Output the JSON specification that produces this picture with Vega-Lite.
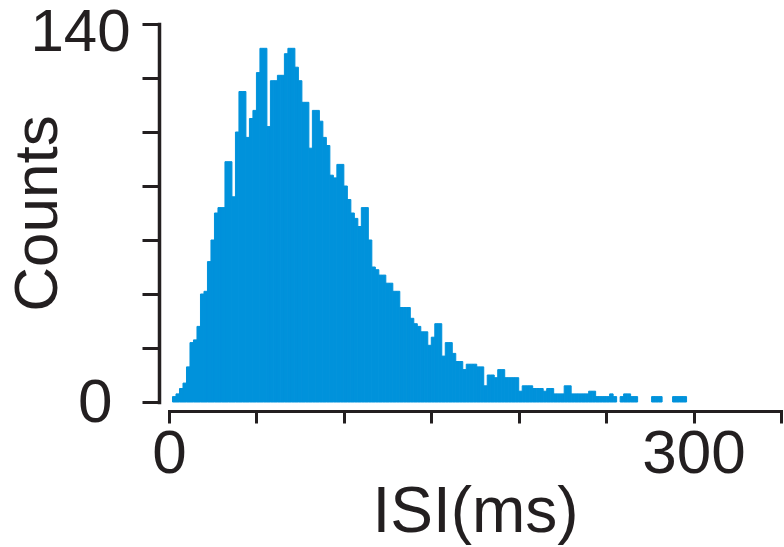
{
  "$schema": "https://vega.github.io/schema/vega-lite/v6.json",
  "width": 612,
  "height": 378,
  "autosize": "none",
  "padding": {"left": 169, "top": 24, "right": 3, "bottom": 145},
  "background": "white",
  "config": {"view": {"stroke": null}, "font": "Liberation Sans"},
  "data": {"values": [
    {"s": 2, "e": 4, "n": 2}, {"s": 4, "e": 6, "n": 3}, {"s": 6, "e": 8, "n": 5}, {"s": 8, "e": 10, "n": 7},
    {"s": 10, "e": 12, "n": 13}, {"s": 12, "e": 14, "n": 22}, {"s": 14, "e": 16, "n": 23}, {"s": 16, "e": 18, "n": 28},
    {"s": 18, "e": 20, "n": 40}, {"s": 20, "e": 22, "n": 41}, {"s": 22, "e": 24, "n": 52}, {"s": 24, "e": 26, "n": 60},
    {"s": 26, "e": 28, "n": 70}, {"s": 28, "e": 30, "n": 72}, {"s": 30, "e": 32, "n": 72}, {"s": 32, "e": 34, "n": 89},
    {"s": 34, "e": 36, "n": 89}, {"s": 36, "e": 38, "n": 76}, {"s": 38, "e": 40, "n": 100}, {"s": 40, "e": 42, "n": 115},
    {"s": 42, "e": 44, "n": 115}, {"s": 44, "e": 46, "n": 98}, {"s": 46, "e": 48, "n": 105}, {"s": 48, "e": 50, "n": 108},
    {"s": 50, "e": 52, "n": 122}, {"s": 52, "e": 54, "n": 131}, {"s": 54, "e": 56, "n": 131}, {"s": 56, "e": 58, "n": 102},
    {"s": 58, "e": 60, "n": 119}, {"s": 60, "e": 62, "n": 119}, {"s": 62, "e": 64, "n": 121}, {"s": 64, "e": 66, "n": 121},
    {"s": 66, "e": 68, "n": 129}, {"s": 68, "e": 70, "n": 131}, {"s": 70, "e": 72, "n": 131}, {"s": 72, "e": 74, "n": 124},
    {"s": 74, "e": 76, "n": 119}, {"s": 76, "e": 78, "n": 111}, {"s": 78, "e": 80, "n": 111}, {"s": 80, "e": 82, "n": 94},
    {"s": 82, "e": 84, "n": 108}, {"s": 84, "e": 86, "n": 108}, {"s": 86, "e": 88, "n": 104}, {"s": 88, "e": 90, "n": 98},
    {"s": 90, "e": 92, "n": 95}, {"s": 92, "e": 94, "n": 84}, {"s": 94, "e": 96, "n": 83}, {"s": 96, "e": 98, "n": 88},
    {"s": 98, "e": 100, "n": 88}, {"s": 100, "e": 102, "n": 80}, {"s": 102, "e": 104, "n": 75}, {"s": 104, "e": 106, "n": 70},
    {"s": 106, "e": 108, "n": 68}, {"s": 108, "e": 110, "n": 65}, {"s": 110, "e": 112, "n": 72}, {"s": 112, "e": 114, "n": 72},
    {"s": 114, "e": 116, "n": 60}, {"s": 116, "e": 118, "n": 50}, {"s": 118, "e": 120, "n": 49}, {"s": 120, "e": 122, "n": 47},
    {"s": 122, "e": 124, "n": 47}, {"s": 124, "e": 126, "n": 44}, {"s": 126, "e": 128, "n": 44}, {"s": 128, "e": 130, "n": 41},
    {"s": 130, "e": 132, "n": 41}, {"s": 132, "e": 134, "n": 35}, {"s": 134, "e": 136, "n": 35}, {"s": 136, "e": 138, "n": 35},
    {"s": 138, "e": 140, "n": 31}, {"s": 140, "e": 142, "n": 29}, {"s": 142, "e": 144, "n": 28}, {"s": 144, "e": 146, "n": 26},
    {"s": 146, "e": 148, "n": 26}, {"s": 148, "e": 150, "n": 21}, {"s": 150, "e": 152, "n": 24}, {"s": 152, "e": 154, "n": 29},
    {"s": 154, "e": 156, "n": 29}, {"s": 156, "e": 158, "n": 17}, {"s": 158, "e": 160, "n": 22}, {"s": 160, "e": 162, "n": 22},
    {"s": 162, "e": 164, "n": 18}, {"s": 164, "e": 166, "n": 15}, {"s": 166, "e": 168, "n": 15}, {"s": 168, "e": 170, "n": 12},
    {"s": 170, "e": 172, "n": 14}, {"s": 172, "e": 174, "n": 14}, {"s": 174, "e": 176, "n": 14}, {"s": 176, "e": 178, "n": 13},
    {"s": 178, "e": 180, "n": 13}, {"s": 180, "e": 182, "n": 6}, {"s": 182, "e": 184, "n": 10}, {"s": 184, "e": 186, "n": 10},
    {"s": 186, "e": 188, "n": 9}, {"s": 188, "e": 190, "n": 12}, {"s": 190, "e": 192, "n": 12}, {"s": 192, "e": 194, "n": 9},
    {"s": 194, "e": 196, "n": 9}, {"s": 196, "e": 198, "n": 9}, {"s": 198, "e": 200, "n": 9}, {"s": 200, "e": 202, "n": 4},
    {"s": 202, "e": 204, "n": 6}, {"s": 204, "e": 206, "n": 6}, {"s": 206, "e": 208, "n": 6}, {"s": 208, "e": 210, "n": 5},
    {"s": 210, "e": 212, "n": 5}, {"s": 212, "e": 214, "n": 5}, {"s": 214, "e": 216, "n": 4}, {"s": 216, "e": 218, "n": 5},
    {"s": 218, "e": 220, "n": 5}, {"s": 220, "e": 222, "n": 3}, {"s": 222, "e": 224, "n": 3}, {"s": 224, "e": 226, "n": 3},
    {"s": 226, "e": 228, "n": 6}, {"s": 228, "e": 230, "n": 6}, {"s": 230, "e": 232, "n": 3}, {"s": 232, "e": 234, "n": 3},
    {"s": 234, "e": 236, "n": 3}, {"s": 236, "e": 238, "n": 3}, {"s": 238, "e": 240, "n": 3}, {"s": 240, "e": 242, "n": 4},
    {"s": 242, "e": 244, "n": 4}, {"s": 244, "e": 246, "n": 2}, {"s": 246, "e": 248, "n": 2}, {"s": 248, "e": 250, "n": 2},
    {"s": 250, "e": 252, "n": 2}, {"s": 252, "e": 254, "n": 3}, {"s": 254, "e": 256, "n": 2},
    {"s": 258, "e": 260, "n": 2}, {"s": 260, "e": 262, "n": 3}, {"s": 262, "e": 264, "n": 3}, {"s": 264, "e": 266, "n": 2},
    {"s": 266, "e": 268, "n": 2},
    {"s": 276, "e": 278, "n": 2}, {"s": 278, "e": 280, "n": 2}, {"s": 280, "e": 282, "n": 2},
    {"s": 288, "e": 290, "n": 2}, {"s": 290, "e": 292, "n": 2}, {"s": 292, "e": 294, "n": 2}, {"s": 294, "e": 296, "n": 2}
  ]},
  "mark": {"type": "bar", "color": "#0092DB", "stroke": "#0092DB", "strokeWidth": 1},
  "encoding": {
    "x": {
      "field": "s", "type": "quantitative",
      "scale": {"domain": [0, 350], "nice": false, "zero": false},
      "axis": {
        "values": [0, 50, 100, 150, 200, 250, 300, 350],
        "labelExpr": "datum.value == 0 || datum.value == 300 ? datum.label : ''",
        "offset": 9, "grid": false,
        "domainColor": "#231F20", "domainWidth": 3, "domainCap": "square",
        "tickColor": "#231F20", "tickWidth": 3, "tickSize": 12,
        "labelFontSize": 62, "labelColor": "#231F20", "labelPadding": 0, "labelFlush": false, "labelOverlap": false,
        "title": "ISI(ms)", "titleFontSize": 64, "titleFontWeight": "normal", "titleColor": "#231F20",
        "titleBaseline": "alphabetic", "titleY": 120
      }
    },
    "x2": {"field": "e"},
    "y": {
      "field": "n", "type": "quantitative",
      "scale": {"domain": [0, 140], "nice": false},
      "axis": {
        "values": [0, 20, 40, 60, 80, 100, 120, 140],
        "labelExpr": "datum.value == 0 || datum.value == 140 ? datum.label : ''",
        "offset": 10, "grid": false,
        "domainColor": "#231F20", "domainWidth": 3.5, "domainCap": "square",
        "tickColor": "#231F20", "tickWidth": 3, "tickSize": 17,
        "labelFontSize": {"condition": {"test": "datum.value == 140", "value": 60}, "value": 62},
        "labelColor": "#231F20", "labelFlush": false, "labelOverlap": false,
        "labelPadding": {"condition": {"test": "datum.value == 0", "value": 30}, "value": 12},
        "labelOffset": {"condition": {"test": "datum.value == 140", "value": 8}, "value": 0},
        "title": "Counts", "titleFontSize": 62, "titleFontWeight": "normal", "titleColor": "#231F20",
        "titleBaseline": "middle", "titleX": -122, "titleY": 189, "titleAngle": -90
      }
    },
    "y2": {"datum": 0}
  }
}
